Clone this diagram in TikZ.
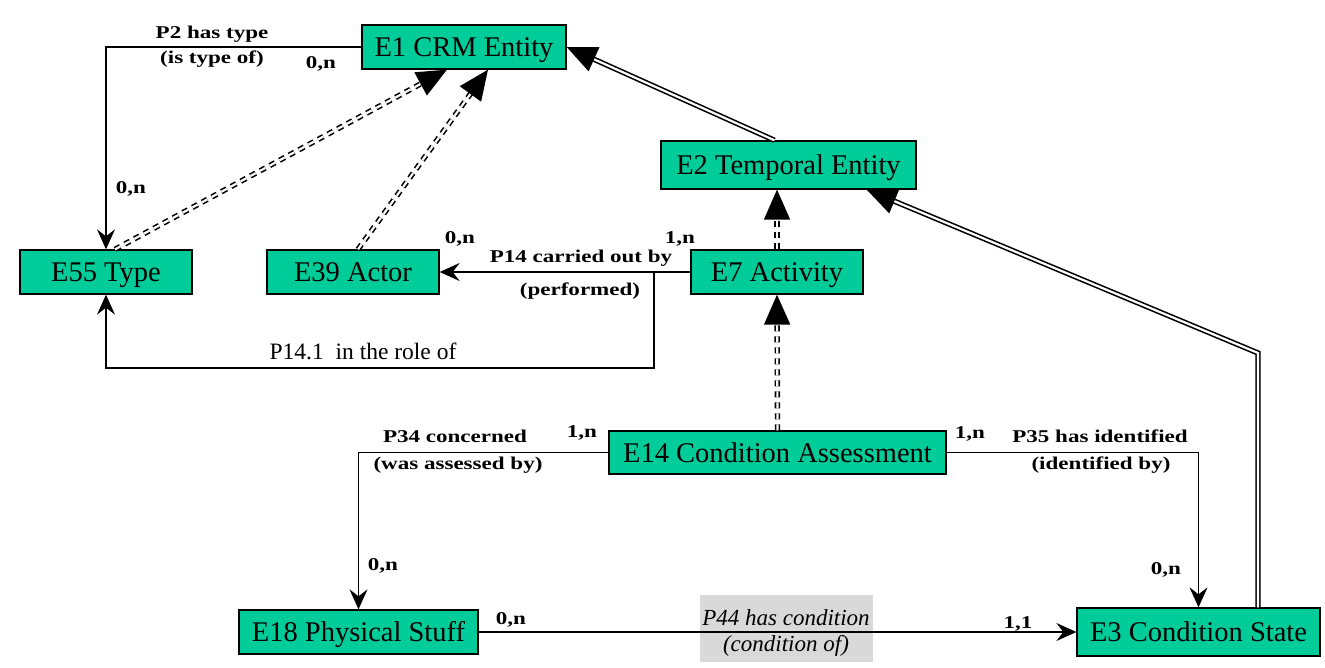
\documentclass[tikz,border=0pt]{standalone}
\usepackage{fontspec}
\setmainfont{Liberation Serif}
\newfontfamily\cardfont[FakeStretch=1.28]{Liberation Serif}
\usetikzlibrary{arrows.meta}
\definecolor{crmgreen}{RGB}{0,204,153}
\definecolor{notegray}{RGB}{217,217,217}

\tikzset{
  entity/.style={draw, line width=1.3pt, fill=crmgreen, inner sep=0pt,
    text height=19pt, text depth=0pt, font=\fontsize{28.5}{30}\selectfont},
  prop/.style={line width=1.3pt, -{Stealth[length=20pt,width=18pt,inset=7pt]}},
  isa/.style={double, line width=1.6pt, double distance=2.2pt,
    -{Triangle[length=30pt,width=26pt]}},
  isadash/.style={isa, dash pattern=on 6pt off 5pt},
  lbl/.style={anchor=base, inner sep=0pt, font=\cardfont\bfseries\fontsize{18}{20}\selectfont},
  role/.style={anchor=base, inner sep=0pt, font=\fontsize{23.5}{25}\selectfont},
  note/.style={anchor=base, inner sep=0pt, font=\itshape\fontsize{23}{25}\selectfont},
}

\begin{document}
\begin{tikzpicture}[x=1pt,y=-1pt]
\useasboundingbox (0,0) rectangle (1325,668);

% classes
\node[entity, minimum width=204pt, minimum height=44pt] (e1) at (464,47) {E1 CRM Entity};
\node[entity, minimum width=255pt, minimum height=48pt] (e2) at (788.5,165) {E2 Temporal Entity};
\node[entity, minimum width=172pt, minimum height=44pt] (e55) at (106,272) {E55 Type};
\node[entity, minimum width=172pt, minimum height=44pt] (e39) at (353,272) {E39 Actor};
\node[entity, minimum width=172pt, minimum height=44pt] (e7) at (777,272) {E7 Activity};
\node[entity, minimum width=337pt, minimum height=43pt] (e14) at (777.5,452.5) {E14 Condition Assessment};
\node[entity, minimum width=239pt, minimum height=44pt] (e18) at (358.5,632) {E18 Physical Stuff};
\node[entity, minimum width=243pt, minimum height=48pt] (e3) at (1198.5,632) {E3 Condition State};

% P44 note box
\node[fill=notegray, inner sep=0pt, minimum width=173pt, minimum height=67pt] (p44) at (786.5,628.5) {};

% isA links
\draw[isadash] ([xshift=9pt]e55.north) -- ([xshift=-17pt]e1.south);
\draw[isadash] ([xshift=5pt]e39.north) -- ([xshift=24pt]e1.south);
\draw[isadash] (e7.north) -- (e7.north |- e2.south);
\draw[isadash] (e14.north) -- (e7.south);
\draw[isa] ([xshift=-14pt]e2.north) -- (e1.east);
\coordinate (bend) at (1258,353);
\draw[isa] ([xshift=59.5pt]e3.north) -- (bend) -- ([xshift=-50pt]e2.south east);

% properties
\draw[prop] (e1.west) -| (e55.north);
\draw[prop] (e7.west) -- (e39.east);
\coordinate (roleout) at (654,272);
\coordinate (rolecorner) at (654,368);
\draw[prop] (roleout) -- (rolecorner) -| (e55.south);
\draw[prop] (e14.west) -| (e18.north);
\draw[prop] (e14.east) -| (e3.north);
\draw[prop] (e18.east) -- (e3.west);

% property labels
\node[lbl] (p2name) at (212,39) {P2 has type};
\node[lbl] (p2inv) at (212,64) {(is type of)};
\node[lbl] (p14name) at (581,263) {P14 carried out by};
\node[lbl] (p14inv) at (580,296) {(performed)};
\node[role] (p141) at (363,359) {P14.1\ \ in the role of};
\node[lbl] (p34name) at (455,442) {P34 concerned};
\node[lbl] (p34inv) at (458,469) {(was assessed by)};
\node[lbl] (p35name) at (1100,442) {P35 has identified};
\node[lbl] (p35inv) at (1101,469) {(identified by)};
\node[note] (p44name) at (786,625) {P44 has condition};
\node[note] (p44inv) at (786,651) {(condition of)};

% cardinalities
\node[lbl] (c1) at (321,69) {0,n};
\node[lbl] (c2) at (131,194) {0,n};
\node[lbl] (c3) at (460,244) {0,n};
\node[lbl] (c4) at (680,244) {1,n};
\node[lbl] (c5) at (582,437) {1,n};
\node[lbl] (c6) at (383,570) {0,n};
\node[lbl] (c7) at (970,438) {1,n};
\node[lbl] (c8) at (1166,574) {0,n};
\node[lbl] (c9) at (511,624) {0,n};
\node[lbl] (c10) at (1018,628) {1,1};

\end{tikzpicture}
\end{document}
